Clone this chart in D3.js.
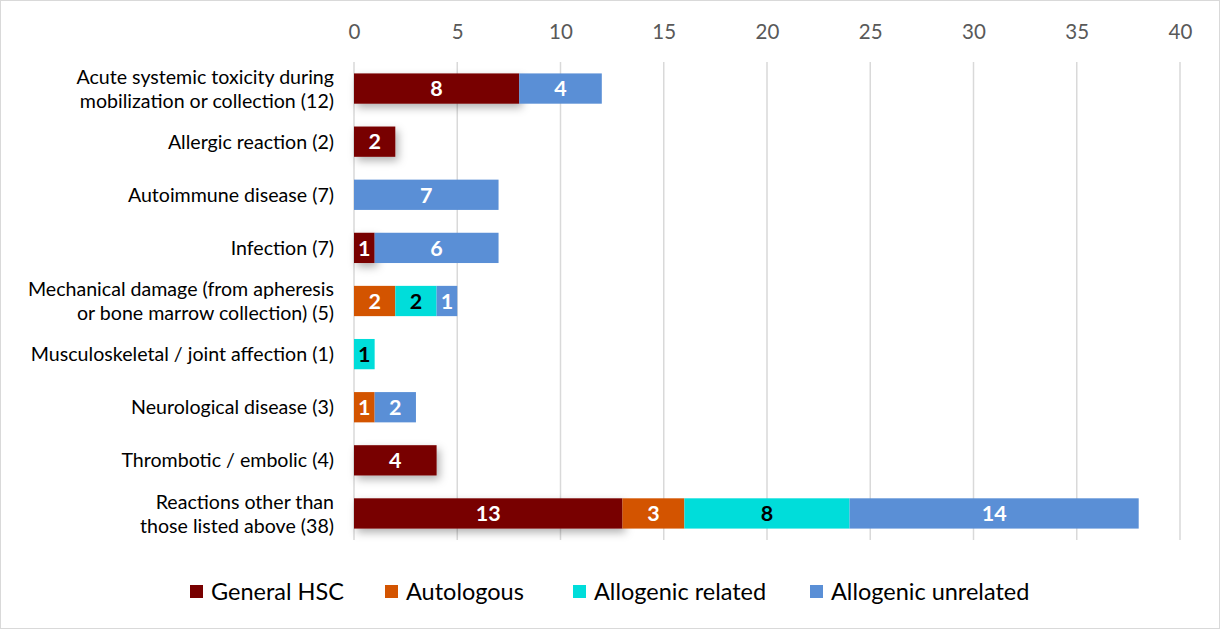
<!DOCTYPE html>
<html><head><meta charset="utf-8">
<script src="https://cdn.jsdelivr.net/npm/d3@7"></script>
<style>body{margin:0;background:#fff}svg{display:block}</style>
</head><body>
<svg id="c" width="1220" height="630"></svg>
<script>
const categories = [
  ["Acute systemic toxicity during","mobilization or collection (12)"],
  ["Allergic reaction (2)"],
  ["Autoimmune disease (7)"],
  ["Infection (7)"],
  ["Mechanical damage (from apheresis","or bone marrow collection) (5)"],
  ["Musculoskeletal / joint affection (1)"],
  ["Neurological disease (3)"],
  ["Thrombotic / embolic (4)"],
  ["Reactions other than","those listed above (38)"]
];
const seriesNames = ["General HSC","Autologous","Allogenic related","Allogenic unrelated"];
const generalHSC = [8,2,0,1,0,0,0,4,13];
const autologous = [0,0,0,0,2,0,1,0,3];
const allogenicRelated = [0,0,0,0,2,1,0,0,8];
const allogenicUnrelated = [4,0,7,6,1,0,2,0,14];
const tickValues = [0,5,10,15,20,25,30,35,40];
const colors = ["#780000","#D35400","#00DDDA","#5A8FD6"];
const labelColors = ["#fff","#fff","#000","#fff"];

const svg = d3.select("#c");
const font = "Lato, 'Open Sans', sans-serif";
svg.append("rect").attr("x",0.5).attr("y",0.5).attr("width",1219).attr("height",628)
  .attr("fill","#fff").attr("stroke","#d9d9d9");

const defs = svg.append("defs");
const f = defs.append("filter").attr("id","sh").attr("x","-10%").attr("y","-30%").attr("width","130%").attr("height","190%");
f.append("feDropShadow").attr("dx",3).attr("dy",4).attr("stdDeviation",4).attr("flood-color","#000").attr("flood-opacity",0.3);

const x = d3.scaleLinear().domain([0,40]).range([354,1180]);
const y = d3.scaleBand().domain(d3.range(categories.length)).range([62,540]).paddingInner(0.43).paddingOuter(0.215);

// grid
svg.append("g").selectAll("line").data(tickValues).join("line")
  .attr("x1",d=>x(d)).attr("x2",d=>x(d)).attr("y1",62).attr("y2",540)
  .attr("stroke","#d9d9d9").attr("stroke-width",1.5);

// top axis labels
const ax = d3.axisTop(x).tickValues(tickValues).tickSize(0).tickPadding(0);
const axg = svg.append("g").attr("transform","translate(0,39)").call(ax);
axg.select(".domain").remove();
axg.selectAll("text").attr("font-family",font).attr("font-size",20.5).attr("fill","#595959");

const seriesData = [generalHSC,autologous,allogenicRelated,allogenicUnrelated];
const rows = categories.map((c,i)=>({i, v: seriesData.map(s=>s[i])}));
const stack = d3.stack().keys([0,1,2,3]).value((d,k)=>d.v[k]);
const stacked = stack(rows);

stacked.forEach((layer,k)=>{
  const g = svg.append("g");
  if(k===0) g.attr("filter","url(#sh)");
  g.selectAll("rect").data(layer.filter(d=>d[1]-d[0]>0)).join("rect")
    .attr("x",d=>x(d[0])).attr("width",d=>x(d[1])-x(d[0]))
    .attr("y",d=>y(d.data.i)).attr("height",y.bandwidth())
    .attr("fill",colors[k]);
});
stacked.forEach((layer,k)=>{
  svg.append("g").selectAll("text").data(layer.filter(d=>d[1]-d[0]>0)).join("text")
    .attr("x",d=>(x(d[0])+x(d[1]))/2).attr("y",d=>y(d.data.i)+y.bandwidth()/2)
    .attr("dy","0.36em").attr("text-anchor","middle")
    .attr("font-family",font).attr("font-weight","bold").attr("font-size",21.5)
    .attr("fill",labelColors[k]).text(d=>d[1]-d[0]);
});

// category labels
const cg = svg.append("g");
categories.forEach((lines,i)=>{
  const cy = y(i)+y.bandwidth()/2;
  lines.forEach((t,j)=>{
    cg.append("text").attr("x",334).attr("y",cy+(j-(lines.length-1)/2)*24)
      .attr("dy","0.36em").attr("text-anchor","end")
      .attr("font-family",font).attr("font-size",19.6).attr("fill","#000").text(t);
  });
});

// legend
const legX = [190,385,573,810];
const lg = svg.append("g");
seriesNames.forEach((n,k)=>{
  lg.append("rect").attr("x",legX[k]).attr("y",585).attr("width",13).attr("height",13).attr("fill",colors[k]);
  lg.append("text").attr("x",legX[k]+21).attr("y",592).attr("dy","0.36em")
    .attr("font-family",font).attr("font-size",23.5).attr("fill","#000").text(n);
});
</script>
</body></html>
